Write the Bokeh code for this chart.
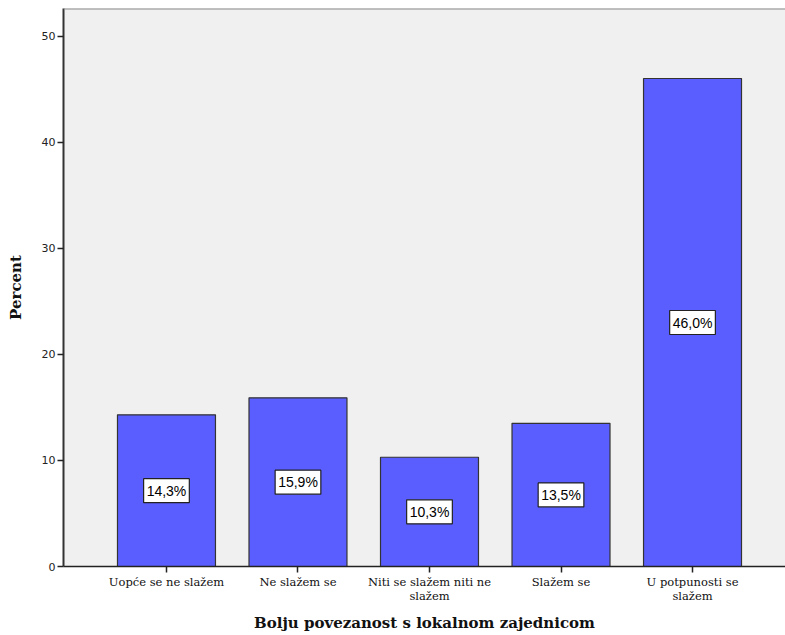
from bokeh.plotting import figure
from bokeh.models import ColumnDataSource, FixedTicker, Range1d, Span
from bokeh.core.properties import value
from bokeh.embed import file_html
from bokeh.resources import INLINE

categories = ["Uopće se ne slažem", "Ne slažem se", "Niti se slažem niti ne\nslažem",
              "Slažem se", "U potpunosti se\nslažem"]
values = [14.3, 15.9, 10.3, 13.5, 46.0]
value_labels = ["14,3%", "15,9%", "10,3%", "13,5%", "46,0%"]
y_ticks = [0, 10, 20, 30, 40, 50]

Y_MAX = 52.6
xs = list(range(1, len(categories) + 1))
src = ColumnDataSource(dict(
    x=xs, top=values, mid=[v / 2 for v in values], lab=value_labels))

p = figure(width=785, height=634, output_backend="svg", toolbar_location=None,
           x_range=Range1d(0.217, 5.707), y_range=Range1d(0, Y_MAX),
           min_border_left=63, min_border_right=0, min_border_top=8, min_border_bottom=60)
p.background_fill_color = "#F0F0F0"
p.border_fill_color = "white"
p.outline_line_color = None
p.grid.visible = False
p.add_layout(Span(location=Y_MAX, dimension="width", line_color="#888888", line_width=2))

p.vbar(x="x", top="top", width=0.745, source=src, fill_color="#5A5EFF",
       line_color="#333333", line_width=1.2)

p.text(x="x", y="mid", text="lab", source=src, text_align="center",
       text_baseline="middle", text_font=value("Liberation Sans"), text_font_size="14px",
       text_color="black", background_fill_color="white",
       border_line_color="#222222", border_line_width=1.2,
       padding=dict(left=3, right=3, top=4, bottom=4))

p.xaxis.ticker = FixedTicker(ticks=xs)
p.xaxis.major_label_overrides = {x: c for x, c in zip(xs, categories)}
p.xaxis.minor_tick_line_color = None
p.xaxis.major_tick_in = 0
p.xaxis.major_tick_out = 6
p.xaxis.axis_line_color = "#222222"
p.xaxis.axis_line_width = 1.5
p.xaxis.major_tick_line_color = "#222222"
p.xaxis.major_tick_line_width = 1.5
p.xaxis.major_label_text_font = "DejaVu Serif"
p.xaxis.major_label_text_font_size = "11.5px"
p.xaxis.major_label_text_color = "#111111"
p.xaxis.major_label_text_line_height = 1.0
p.xaxis.major_label_standoff = 2
p.xaxis.axis_label = "Bolju povezanost s lokalnom zajednicom"
p.xaxis.axis_label_text_font = "DejaVu Serif"
p.xaxis.axis_label_text_font_style = "bold"
p.xaxis.axis_label_text_font_size = "15px"
p.xaxis.axis_label_text_color = "#111111"
p.xaxis.axis_label_standoff = 8

p.yaxis.ticker = FixedTicker(ticks=y_ticks)
p.yaxis.minor_tick_line_color = None
p.yaxis.major_tick_in = 0
p.yaxis.major_tick_out = 6
p.yaxis.axis_line_color = "#333333"
p.yaxis.axis_line_width = 2
p.yaxis.major_tick_line_color = "#222222"
p.yaxis.major_tick_line_width = 1.5
p.yaxis.major_label_text_font = "DejaVu Sans"
p.yaxis.major_label_text_font_size = "11px"
p.yaxis.major_label_text_color = "#222222"
p.yaxis.major_label_standoff = 2
p.yaxis.axis_label = "Percent"
p.yaxis.axis_label_text_font = "DejaVu Serif"
p.yaxis.axis_label_text_font_style = "bold"
p.yaxis.axis_label_text_font_size = "15px"
p.yaxis.axis_label_text_color = "#111111"
p.yaxis.axis_label_standoff = 14

open("out.html", "w").write(file_html(p, INLINE))
